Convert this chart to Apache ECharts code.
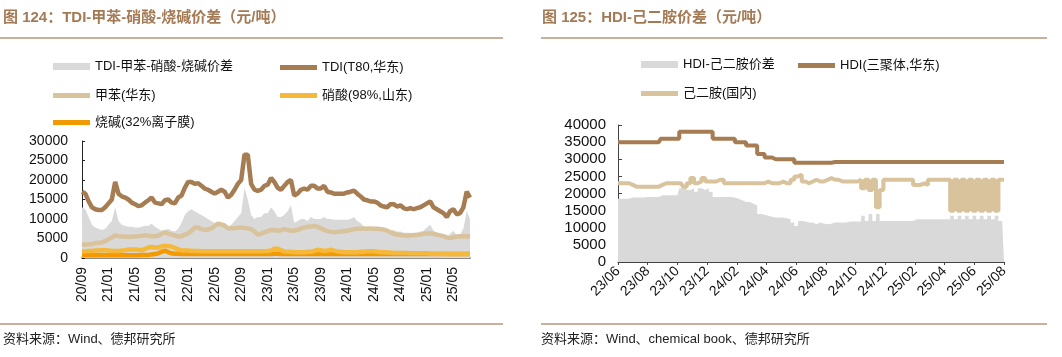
<!DOCTYPE html>
<html>
<head>
<meta charset="utf-8">
<script src="https://cdn.jsdelivr.net/npm/echarts@6/dist/echarts.min.js"></script>
<style>
html,body{margin:0;padding:0;background:#fff;}
#c{width:1062px;height:357px;}
</style>
</head>
<body>
<div id="c"></div>
<script>
// ---------- Left chart (图124) : semi-monthly points ----------
const leftMonths = ['20/09','20/10','20/11','20/12',
 '21/01','21/02','21/03','21/04','21/05','21/06','21/07','21/08','21/09','21/10','21/11','21/12',
 '22/01','22/02','22/03','22/04','22/05','22/06','22/07','22/08','22/09','22/10','22/11','22/12',
 '23/01','23/02','23/03','23/04','23/05','23/06','23/07','23/08','23/09','23/10','23/11','23/12',
 '24/01','24/02','24/03','24/04','24/05','24/06','24/07','24/08','24/09','24/10','24/11','24/12',
 '25/01','25/02','25/03','25/04','25/05','25/06','25/07'];
const leftCats = [];
leftMonths.forEach(m => { leftCats.push(m + '#1'); leftCats.push(m + '#2'); });

const tdiSpread = [
 13000,12500,10500,8500,7800,7500,7200,7500,
 8500,9500,13000,9500,8500,8200,8000,8000,
 7800,7800,8000,8300,8200,8800,8000,7500,
 7000,7200,7500,7000,6800,7500,9000,11000,
 12000,12500,12000,11500,11000,10500,10000,9500,
 9000,8800,9000,9000,8000,8500,9500,10500,
 11500,18000,15000,11000,10000,10500,10500,11500,
 11500,13000,12000,10500,10500,11000,12000,13500,
 9000,9500,10000,10000,9500,10500,10000,10000,
 10000,10500,10000,10000,9800,9800,9800,9800,
 9800,10000,10500,9500,9000,8000,7800,7500,
 7500,7200,7000,6800,6800,7000,7200,6800,
 6800,6500,6500,6500,6300,6500,6800,7000,
 7800,8500,7000,6500,6300,6000,5200,6200,
 7000,5800,6000,7500,12000,10000];
const tdiPrice = [
 17000,16500,14500,13000,12500,12300,12300,13000,
 14000,15000,19500,16500,15800,15500,15000,14200,
 13800,13300,13500,14200,14800,15500,14200,14000,
 13800,14800,15000,14200,14000,15500,16000,18000,
 19500,19500,19000,19200,18500,17800,17500,17000,
 16500,17000,17500,17000,15500,16200,17500,19000,
 20000,26500,26500,19000,17500,17200,17500,18500,
 18800,20500,19500,18000,17500,18500,19500,20000,
 16000,16500,17500,17800,17500,18500,18500,17800,
 17800,18500,17000,16800,16500,16500,16500,16500,
 16800,17000,17300,16500,15800,15000,14800,14500,
 14500,14200,13500,13200,13000,13800,13800,13200,
 13500,12800,12500,12800,12500,12800,13000,13500,
 14000,14500,13000,12500,12000,11500,10500,12000,
 12500,11200,11500,13000,17000,15500];
const toluene = [
 3500,3400,3500,3600,3800,3900,4000,4300,
 4800,5200,5800,5600,5500,5500,5400,5500,
 5500,5600,5700,5800,5700,5600,5600,5700,
 6200,6600,6200,6000,5800,5500,5600,6000,
 6300,7000,7800,7800,7400,7200,7300,7600,
 8200,8800,8600,8300,7600,7600,7600,7800,
 7800,7700,7600,7400,6800,6000,6200,6600,
 6900,7200,7100,7000,7100,7400,7200,7000,
 7000,7200,7600,7800,8000,8100,8200,8000,
 7600,7200,6900,6700,6600,6700,6800,6900,
 7000,7200,7400,7500,7500,7600,7500,7600,
 7500,7500,7400,7300,7000,6600,6200,6000,
 5900,5800,5800,5800,5900,5900,6000,6200,
 6300,6300,6200,6000,5800,5600,5300,5100,
 5300,5500,5600,5500,5600,5500];
const nitricAcid = [
 1600,1700,1800,1800,1900,1900,2000,2000,
 1900,1800,1800,1800,1900,2000,2200,2200,
 2200,2100,2000,2300,2700,2800,2700,2700,
 3000,3100,3100,2900,2600,2200,2000,1900,
 1900,1800,1800,1800,1700,1700,1700,1700,
 1700,1700,1700,1700,1700,1700,1700,1700,
 1700,1700,1700,1700,1700,1700,1700,1700,
 1800,1900,2400,2400,2000,1700,1600,1600,
 1500,1500,1500,1500,1600,1600,1800,2100,
 2000,1800,1900,2100,1900,1700,1600,1500,
 1500,1500,1500,1500,1600,1600,1700,1700,
 1700,1600,1500,1500,1400,1400,1300,1300,
 1300,1300,1300,1200,1200,1200,1200,1200,
 1200,1100,1100,1100,1100,1100,1000,1000,
 1000,1000,1000,1000,1000,1000];
const causticSoda = [
 700,700,700,700,700,700,700,700,
 700,700,700,700,700,700,700,700,
 700,700,800,800,800,900,1000,1200,
 1600,1900,1500,1200,1100,1100,1000,1000,
 1000,1000,1000,1000,1000,1000,1000,1000,
 1000,1000,1000,1000,1000,1000,1000,1000,
 1000,1000,1000,1000,1000,1000,1000,1000,
 1000,1000,1100,1100,1000,1000,1000,1000,
 1000,1000,1000,1000,1000,1000,1000,1000,
 1000,1000,1000,1000,1000,1000,1000,1000,
 1000,1000,1000,1000,1000,1000,1000,1000,
 1000,1000,1000,1000,1000,1000,1000,1000,
 1000,1000,1000,1000,1000,1000,1000,1000,
 1000,1000,1000,1000,1000,1000,1000,1000,
 1000,1000,1000,1000,1000,1000];

// ---------- Right chart (图125) : quarter-monthly points ----------
const rightMonths = ['23/06','23/07','23/08','23/09','23/10','23/11','23/12',
 '24/01','24/02','24/03','24/04','24/05','24/06','24/07','24/08','24/09','24/10','24/11','24/12',
 '25/01','25/02','25/03','25/04','25/05','25/06','25/07','25/08'];
const rightCats = [];
rightMonths.forEach((m, k) => {
  const n = (k === rightMonths.length - 1) ? 1 : 4;
  for (let j = 0; j < n; j++) rightCats.push(m + '#' + j);
});

const hdiSpread = [
 18500,18500,18500,18500,18800,18800,18800,18800,
 19000,19000,19000,19000,19500,19500,19500,19500,
 19500,21500,22000,21000,21500,20500,21500,21000,
 21500,20500,19000,19000,19000,19000,19000,18800,
 18500,18000,17500,17500,17000,16500,14000,13800,
 13500,13200,13000,13000,13000,12800,12500,11500,
 10500,12000,11800,11500,11500,11000,11500,11200,
 11000,11200,11500,11500,11500,11500,11800,11800,
 11800,11800,13500,12000,14000,12000,14000,12000,
 12000,12000,12000,12000,12000,12000,12000,12000,
 12500,12500,12500,12500,12500,12500,12500,12500,
 12500,12500,13500,12500,13500,12500,13500,12500,
 13500,12500,13500,12500,13500,12500,13500,12000,
 12000];
const hdiPrice = [
 35000,35000,35000,35000,35000,35000,35000,35000,
 35000,35000,35000,35000,36000,36000,36000,36000,
 36000,38000,38000,38000,38000,38000,38000,38000,
 38000,38000,36000,36000,36000,36000,36000,36000,
 35000,35000,35000,34000,34000,34000,31500,31500,
 30500,30500,30000,30000,30000,30000,30000,30000,
 29000,29000,29000,29000,29000,29000,29000,29000,
 29000,29000,29200,29200,29200,29200,29200,29200,
 29200,29200,29200,29200,29200,29200,29200,29200,
 29200,29200,29200,29200,29200,29200,29200,29200,
 29200,29200,29200,29200,29200,29200,29200,29200,
 29200,29200,29200,29200,29200,29200,29200,29200,
 29200,29200,29200,29200,29200,29200,29200,29200,
 29200];
const hexanediamine = [
 23000,23000,23000,23000,22500,22000,22000,22000,
 22000,22000,22000,22000,22500,23000,23000,23000,
 23000,23000,22000,23000,24500,23000,23500,24500,
 23500,23500,23500,24000,24000,23000,23000,23000,
 23000,23000,23000,23000,23000,23000,23000,23000,
 23500,23000,23000,23000,23500,23000,23000,24000,
 25000,25500,23500,23000,23500,24000,23500,23500,
 24000,24500,24000,24000,23500,23500,23500,23500,
 23500,24000,21500,24000,21000,24000,16000,21000,
 24000,24000,24000,24000,24000,24000,24000,24000,
 22500,22500,23000,22500,24000,24000,24000,24000,
 24000,24000,15000,24000,15000,24000,15000,24000,
 15000,24000,15000,24000,15000,24000,15000,24000,
 24000];

const FONT = '"Liberation Sans", Arial, "Noto Sans CJK SC", sans-serif';
const CJK = '"Liberation Sans", "Noto Sans CJK SC", sans-serif';
const BROWN = '#A67C52';
const TOL = '#D8C39D';
const NIT = '#F5B83A';
const NAOH = '#F39A00';
const GRAY = '#D9D9D9';
const TITLE = '#A47A55';
const RULE = '#B8957A';

const catFmt = v => v.split('#')[0];
const numFmt = v => String(v);

function lg(left, top, name, h) {
  return {
    left: left, top: top, orient: 'horizontal', selectedMode: false,
    itemWidth: 37, itemHeight: h, itemGap: 0, padding: 0,
    data: [{ name: name, icon: 'rect' }],
    textStyle: { fontSize: 13, color: '#111', fontFamily: CJK, padding: [0, 0, 0, 0] }
  };
}

const chart = echarts.init(document.getElementById('c'), null, { renderer: 'canvas' });
chart.setOption({
  animation: false,
  backgroundColor: '#fff',
  textStyle: { fontFamily: FONT },
  graphic: [
    { type: 'text', left: 3, top: 10, style: { text: '图 124：TDI-甲苯-硝酸-烧碱价差（元/吨）', fill: TITLE, font: 'bold 15px ' + CJK } },
    { type: 'line', shape: { x1: 0, y1: 38, x2: 503, y2: 38 }, style: { stroke: RULE, lineWidth: 1.5 } },
    { type: 'text', left: 542, top: 10, style: { text: '图 125：HDI-己二胺价差（元/吨）', fill: TITLE, font: 'bold 15px ' + CJK } },
    { type: 'line', shape: { x1: 541, y1: 38, x2: 1047, y2: 38 }, style: { stroke: RULE, lineWidth: 1.5 } },
    { type: 'line', shape: { x1: 0, y1: 324, x2: 503, y2: 324 }, style: { stroke: RULE, lineWidth: 1.5 } },
    { type: 'line', shape: { x1: 541, y1: 324, x2: 1047, y2: 324 }, style: { stroke: RULE, lineWidth: 1.5 } },
    { type: 'text', left: 3, top: 333, style: { text: '资料来源：Wind、德邦研究所', fill: '#222', font: '13px ' + CJK } },
    { type: 'text', left: 541, top: 333, style: { text: '资料来源：Wind、chemical book、德邦研究所', fill: '#222', font: '13px ' + CJK } }
  ],
  legend: [
    lg(53, 60, 'TDI-甲苯-硝酸-烧碱价差', 7),
    lg(280, 61, 'TDI(T80,华东)', 5),
    lg(53, 89, '甲苯(华东)', 5),
    lg(280, 89, '硝酸(98%,山东)', 5),
    lg(53, 116, '烧碱(32%离子膜)', 5),
    lg(641, 58, 'HDI-己二胺价差', 7),
    lg(798, 59, 'HDI(三聚体,华东)', 5),
    lg(641, 87, '己二胺(国内)', 5)
  ],
  grid: [
    { left: 82, top: 141, width: 388, height: 117, containLabel: false },
    { left: 618, top: 125, width: 386, height: 137, containLabel: false }
  ],
  xAxis: [
    {
      type: 'category', gridIndex: 0, data: leftCats, boundaryGap: false,
      axisLine: { lineStyle: { color: '#8a8a8a', width: 2 } },
      axisTick: { inside: true, length: 3, interval: 7, lineStyle: { color: '#333' } },
      axisLabel: { interval: 7, rotate: 90, formatter: catFmt, fontSize: 14, color: '#111', margin: 9, fontFamily: FONT },
      splitLine: { show: false }
    },
    {
      type: 'category', gridIndex: 1, data: rightCats, boundaryGap: false,
      axisLine: { lineStyle: { color: '#444', width: 1 } },
      axisTick: { inside: false, length: 3, interval: 7, lineStyle: { color: '#444' } },
      axisLabel: { interval: 7, rotate: 45, formatter: catFmt, fontSize: 14, color: '#111', margin: 7, fontFamily: FONT },
      splitLine: { show: false }
    }
  ],
  yAxis: [
    {
      type: 'value', gridIndex: 0, min: 0, max: 30000, interval: 5000,
      axisLine: { show: true, lineStyle: { color: '#222', width: 1 } },
      axisTick: { show: true, inside: true, length: 3, lineStyle: { color: '#222' } },
      axisLabel: { fontSize: 14, color: '#111', margin: 14, fontFamily: FONT, formatter: numFmt },
      splitLine: { show: false }
    },
    {
      type: 'value', gridIndex: 1, min: 0, max: 40000, interval: 5000,
      axisLine: { show: true, lineStyle: { color: '#444', width: 1 } },
      axisTick: { show: true, inside: true, length: 4, lineStyle: { color: '#444' } },
      axisLabel: { fontSize: 15, color: '#111', margin: 12, fontFamily: FONT, formatter: numFmt },
      splitLine: { show: false }
    }
  ],
  series: [
    { name: 'TDI-甲苯-硝酸-烧碱价差', type: 'line', xAxisIndex: 0, yAxisIndex: 0, data: tdiSpread,
      showSymbol: false, symbol: 'none', lineStyle: { width: 0, color: GRAY }, itemStyle: { color: GRAY },
      areaStyle: { color: GRAY, opacity: 1 }, z: 1 },
    { name: '烧碱(32%离子膜)', type: 'line', xAxisIndex: 0, yAxisIndex: 0, data: causticSoda,
      showSymbol: false, symbol: 'none', lineStyle: { width: 4.5, color: NAOH }, itemStyle: { color: NAOH }, z: 3 },
    { name: '硝酸(98%,山东)', type: 'line', xAxisIndex: 0, yAxisIndex: 0, data: nitricAcid,
      showSymbol: false, symbol: 'none', lineStyle: { width: 4.5, color: NIT }, itemStyle: { color: NIT }, z: 3 },
    { name: '甲苯(华东)', type: 'line', xAxisIndex: 0, yAxisIndex: 0, data: toluene,
      showSymbol: false, symbol: 'none', lineStyle: { width: 4.5, color: TOL }, itemStyle: { color: TOL }, z: 3 },
    { name: 'TDI(T80,华东)', type: 'line', xAxisIndex: 0, yAxisIndex: 0, data: tdiPrice,
      showSymbol: false, symbol: 'none', lineStyle: { width: 4.5, color: BROWN }, itemStyle: { color: BROWN }, z: 4 },

    { name: 'HDI-己二胺价差', type: 'line', xAxisIndex: 1, yAxisIndex: 1, data: hdiSpread, step: 'middle',
      showSymbol: false, symbol: 'none', lineStyle: { width: 0, color: GRAY }, itemStyle: { color: GRAY },
      areaStyle: { color: GRAY, opacity: 1 }, z: 1 },
    { name: '己二胺(国内)', type: 'line', xAxisIndex: 1, yAxisIndex: 1, data: hexanediamine, step: 'middle',
      showSymbol: false, symbol: 'none', lineStyle: { width: 4, color: TOL }, itemStyle: { color: TOL }, z: 3 },
    { name: 'HDI(三聚体,华东)', type: 'line', xAxisIndex: 1, yAxisIndex: 1, data: hdiPrice, step: 'middle',
      showSymbol: false, symbol: 'none', lineStyle: { width: 4, color: BROWN }, itemStyle: { color: BROWN }, z: 4 }
  ]
});
</script>
</body>
</html>
